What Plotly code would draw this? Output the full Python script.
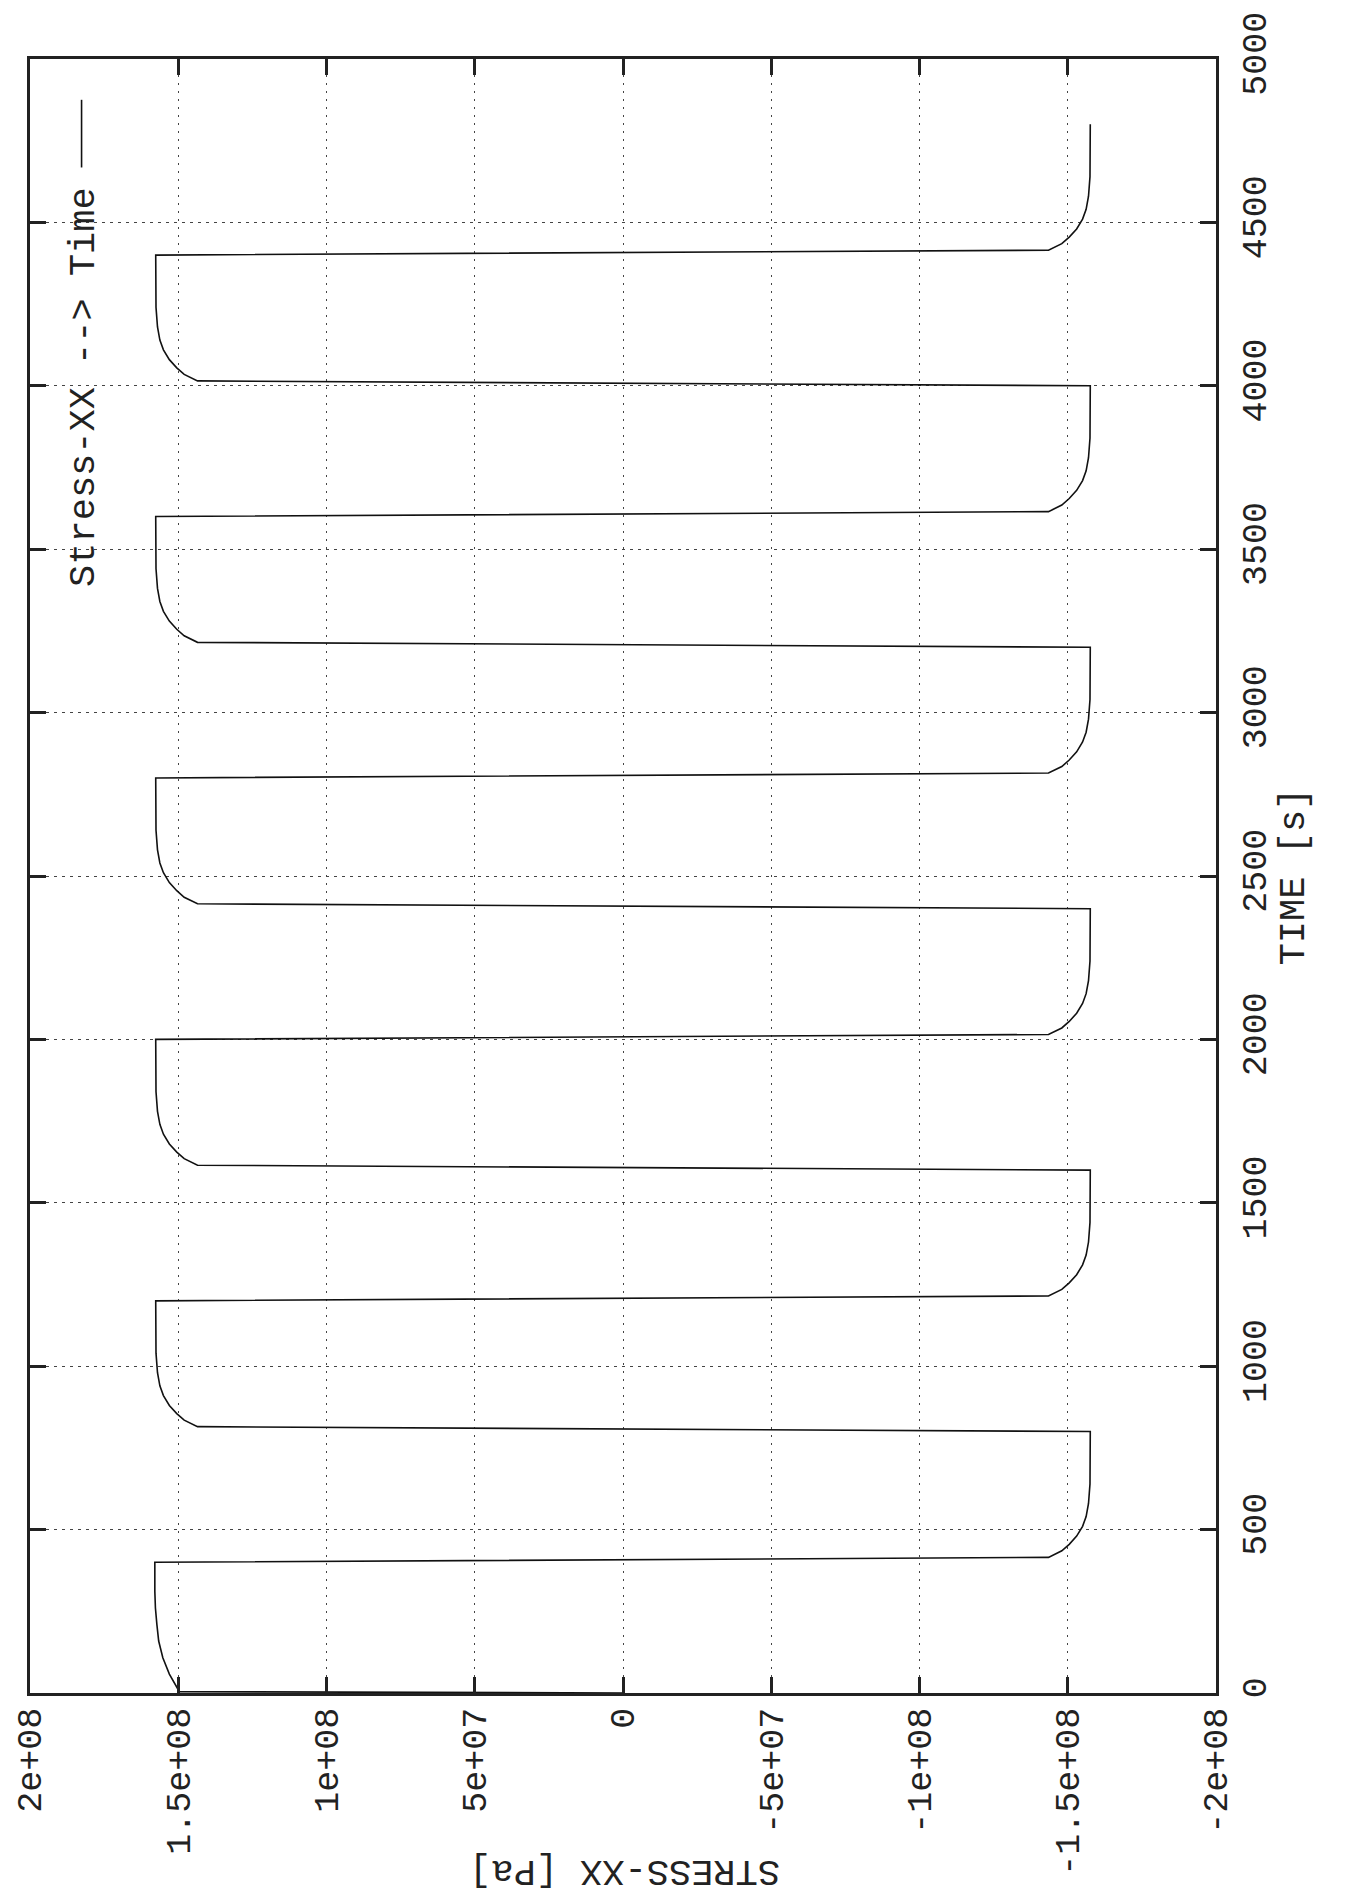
import plotly.graph_objects as go

# Stress history: time [s] and STRESS-XX [Pa], one row per half cycle
time_s = [
    0, 4, 10, 58, 108, 159, 209, 260, 311, 400,
    415, 435, 455, 480, 510, 540, 580, 640, 800,
    815, 835, 855, 880, 910, 940, 980, 1040, 1200,
    1215, 1235, 1255, 1280, 1310, 1340, 1380, 1440, 1600,
    1615, 1635, 1655, 1680, 1710, 1740, 1780, 1840, 2000,
    2015, 2035, 2055, 2080, 2110, 2140, 2180, 2240, 2400,
    2415, 2435, 2455, 2480, 2510, 2540, 2580, 2640, 2800,
    2815, 2835, 2855, 2880, 2910, 2940, 2980, 3040, 3200,
    3215, 3235, 3255, 3280, 3310, 3340, 3380, 3440, 3600,
    3615, 3635, 3655, 3680, 3710, 3740, 3780, 3840, 4000,
    4015, 4035, 4055, 4080, 4110, 4140, 4180, 4240, 4400,
    4415, 4435, 4455, 4480, 4510, 4540, 4580, 4640, 4800,
]
stress_pa = [
    0, 1.495e8, 1.50e8, 1.530e8, 1.552e8, 1.566e8, 1.572e8, 1.577e8, 1.579e8, 1.579e8,
    -1.435e8, -1.48e8, -1.505e8, -1.53e8, -1.55e8, -1.562e8, -1.57e8, -1.575e8, -1.576e8,
    1.435e8, 1.48e8, 1.505e8, 1.53e8, 1.55e8, 1.562e8, 1.57e8, 1.575e8, 1.576e8,
    -1.435e8, -1.48e8, -1.505e8, -1.53e8, -1.55e8, -1.562e8, -1.57e8, -1.575e8, -1.576e8,
    1.435e8, 1.48e8, 1.505e8, 1.53e8, 1.55e8, 1.562e8, 1.57e8, 1.575e8, 1.576e8,
    -1.435e8, -1.48e8, -1.505e8, -1.53e8, -1.55e8, -1.562e8, -1.57e8, -1.575e8, -1.576e8,
    1.435e8, 1.48e8, 1.505e8, 1.53e8, 1.55e8, 1.562e8, 1.57e8, 1.575e8, 1.576e8,
    -1.435e8, -1.48e8, -1.505e8, -1.53e8, -1.55e8, -1.562e8, -1.57e8, -1.575e8, -1.576e8,
    1.435e8, 1.48e8, 1.505e8, 1.53e8, 1.55e8, 1.562e8, 1.57e8, 1.575e8, 1.576e8,
    -1.435e8, -1.48e8, -1.505e8, -1.53e8, -1.55e8, -1.562e8, -1.57e8, -1.575e8, -1.576e8,
    1.435e8, 1.48e8, 1.505e8, 1.53e8, 1.55e8, 1.562e8, 1.57e8, 1.575e8, 1.576e8,
    -1.435e8, -1.48e8, -1.505e8, -1.53e8, -1.55e8, -1.562e8, -1.57e8, -1.575e8, -1.576e8,
]

stress_ticks = [2e8, 1.5e8, 1e8, 5e7, 0, -5e7, -1e8, -1.5e8, -2e8]
stress_tick_labels = ["2e+08", "1.5e+08", "1e+08", "5e+07", "0",
                      "-5e+07", "-1e+08", "-1.5e+08", "-2e+08"]
time_ticks = [0, 500, 1000, 1500, 2000, 2500, 3000, 3500, 4000, 4500, 5000]
time_tick_labels = [str(t) for t in time_ticks]

FONT = "Liberation Mono"
INK = "#222222"
W, H = 1351, 1898
L, R, T, B = 20, 135, 51, 205
PW, PH = W - L - R, H - T - B


def px(xp):
    return (xp - L) / PW


def py(yp):
    return (H - B - yp) / PH


fig = go.Figure()
fig.add_trace(go.Scatter(
    x=stress_pa, y=time_s, mode="lines",
    line=dict(color="#111111", width=1.6),
    showlegend=False, hoverinfo="skip",
))

axis_common = dict(
    ticks="inside", ticklen=16, tickwidth=2.5, tickcolor=INK,
    showline=True, linewidth=2.5, linecolor=INK, mirror="ticks",
    showgrid=True, gridcolor="#444444", gridwidth=1,
    zeroline=False, tickangle=-90,
    tickfont=dict(family=FONT, size=35, color=INK),
)

fig.update_xaxes(
    range=[2e8, -2e8], tickmode="array",
    tickvals=stress_ticks, ticktext=stress_tick_labels,
    griddash="2px,6px", ticklabelstandoff=-2, **axis_common,
)
fig.update_yaxes(
    range=[0, 5000], side="right", tickmode="array",
    tickvals=time_ticks, ticktext=time_tick_labels,
    griddash="3px,5px", ticklabelstandoff=5, **axis_common,
)

annotations = [
    # time axis title (rotated with the sheet)
    dict(text="TIME [s]", textangle=-90, x=px(1295), y=0.5,
         xanchor="center", yanchor="middle"),
    # stress axis title
    dict(text="STRESS-XX [Pa]", textangle=180, x=px(619), y=py(1872),
         xanchor="center", yanchor="middle"),
    # key entry
    dict(text="Stress-XX --> Time", textangle=-90, x=px(75), y=py(381),
         xanchor="center", yanchor="middle"),
]
for a in annotations:
    a.update(xref="paper", yref="paper", showarrow=False,
             font=dict(family=FONT, size=37, color=INK))
fig.update_layout(annotations=annotations)

# key line sample
fig.add_shape(type="line", xref="paper", yref="paper",
              x0=px(72), x1=px(72), y0=py(160), y1=py(92),
              line=dict(color="#111111", width=1.6))

fig.update_layout(
    width=W, height=H, autosize=False,
    margin=dict(l=L, r=R, t=T, b=B, pad=0),
    paper_bgcolor="white", plot_bgcolor="white",
)

fig.write_html("out.html")
